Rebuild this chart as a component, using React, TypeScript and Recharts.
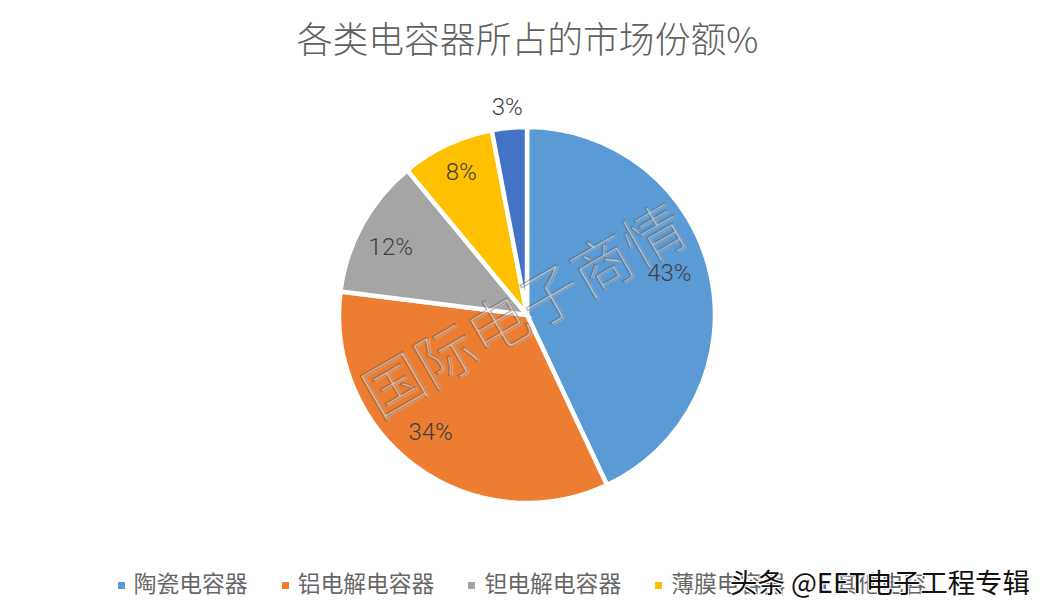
import { PieChart, Pie, Cell, Legend } from 'recharts'

const categories = ['陶瓷电容器', '铝电解电容器', '钽电解电容器', '薄膜电容器', '其他电容']
const shares = [43, 34, 12, 8, 3]
const colors = ['#5B9BD5', '#ED7D31', '#A5A5A5', '#FFC000', '#4472C4']
// hand nudges for the data labels, Excel's best-fit placement isn't on a circle
const labelNudges = [[-6, -9], [-7, -6], [-3, 5], [-1, -5], [0, 0]]

const chartData = categories.map((name, i) => ({ name, value: shares[i] }))

const CJK = '"Noto Sans CJK SC", "Noto Sans", sans-serif'
const RAD = Math.PI / 180

function renderLabel(props: any) {
  const { cx, cy, midAngle, value, index } = props
  const r = value === 3 ? 209 : 152
  const x = cx + r * Math.cos(-midAngle * RAD) + labelNudges[index][0]
  const y = cy + r * Math.sin(-midAngle * RAD) + labelNudges[index][1]
  return (
    <text x={x} y={y} textAnchor="middle" dominantBaseline="central" style={{ fontSize: 24, fontFamily: 'Roboto, sans-serif', fontWeight: 300, fill: '#404040' }}>
      {value}%
    </text>
  )
}

export default function App() {
  return (
    <div style={{ position: 'absolute', left: 0, top: 0, width: 1048, height: 616, background: '#fff', overflow: 'hidden' }}>
      <div style={{ position: 'absolute', left: 0, width: 1055, top: 11, textAlign: 'center', fontSize: 35.8, lineHeight: '52px', color: '#606060', fontFamily: CJK, fontWeight: 300 }}>
        各类电容器所占的市场份额%
      </div>
      <PieChart width={1048} height={616} margin={{ top: 0, right: 0, bottom: 0, left: 0 }} style={{ position: 'absolute', left: 0, top: 0 }}>
        <Pie
          data={chartData}
          dataKey="value"
          nameKey="name"
          cx={527}
          cy={315}
          outerRadius={188}
          startAngle={90}
          endAngle={-270}
          stroke="#fff"
          strokeWidth={4.5}
          label={renderLabel}
          labelLine={false}
          isAnimationActive={false}
        >
          {chartData.map((_entry, index) => (
            <Cell key={index} fill={colors[index]} />
          ))}
        </Pie>
        <Legend
          iconType="square"
          iconSize={7}
          layout="horizontal"
          verticalAlign="bottom"
          itemSorter={null}
          wrapperStyle={{ bottom: 17, left: 15, width: 1048, fontFamily: CJK, fontSize: 22.8 }}
          formatter={(value: string) => <span style={{ color: '#666', paddingLeft: 5, marginRight: 24 }}>{value}</span>}
        />
      </PieChart>
      <div style={{ position: 'absolute', left: 222, width: 600, top: 272, textAlign: 'center', fontSize: 60, lineHeight: '70px', whiteSpace: 'nowrap', transform: 'rotate(-30deg)', color: 'rgba(255,255,255,0.12)', WebkitTextStroke: '1.4px rgba(80,80,80,0.4)', textShadow: '1px 1px 1px rgba(255,255,255,0.4)', fontFamily: CJK, fontWeight: 300 }}>
        国际电子商情
      </div>
      <div style={{ position: 'absolute', left: 730, top: 562, fontSize: 27.4, lineHeight: '38px', whiteSpace: 'nowrap', color: '#111', textShadow: '1px 1px 0 #fff, -1px -1px 0 #fff, 1px -1px 0 #fff, -1px 1px 0 #fff', fontFamily: CJK }}>
        头条 @EET电子工程专辑
      </div>
    </div>
  )
}
